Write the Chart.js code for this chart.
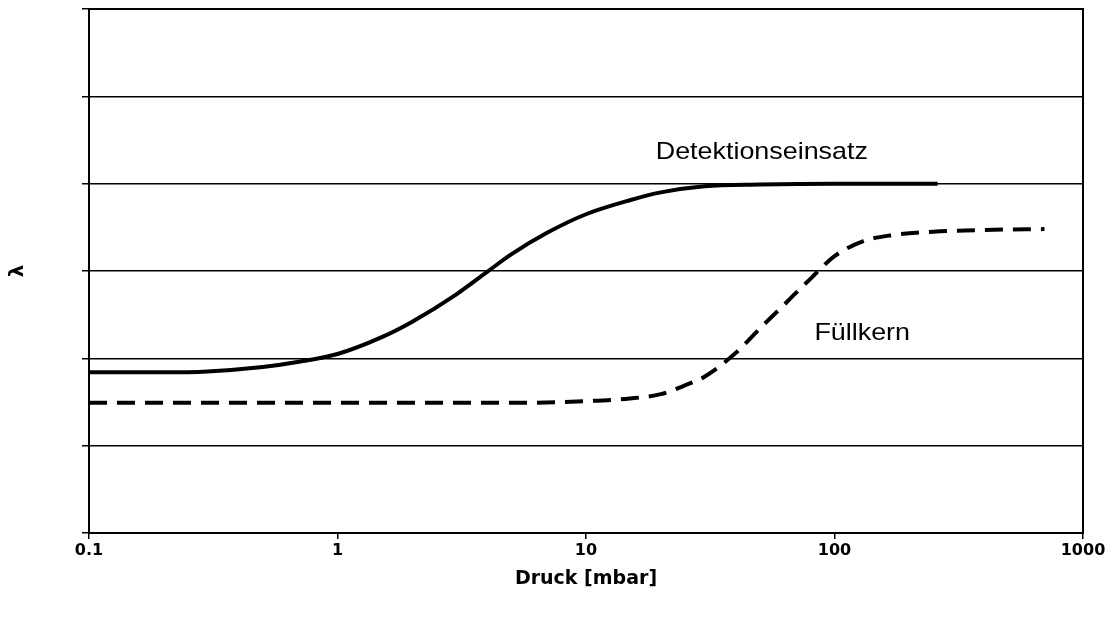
<!DOCTYPE html>
<html>
<head>
<meta charset="utf-8">
<script src="https://cdn.jsdelivr.net/npm/chart.js@4"></script>
<style>
  html, body { margin: 0; padding: 0; background: #fff; }
  #wrap { width: 1117px; height: 620px; }
</style>
</head>
<body>
<div id="wrap"><canvas id="lambdaChart" width="1117" height="620"></canvas></div>
<script>
// pressure in mbar (log axis), lambda in grid units (no scale printed)
const detPressure = [0.1, 0.2, 0.3, 0.5, 0.7, 1, 1.5, 2, 3, 4, 5, 7, 10, 15, 20, 30, 50, 100, 260];
const detLambda   = [1.84, 1.84, 1.85, 1.90, 1.96, 2.05, 2.24, 2.42, 2.73, 2.99, 3.19, 3.44, 3.65, 3.81, 3.90, 3.97, 3.99, 4.0, 4.0];

const fillPressure = [0.1, 1, 5, 10, 15, 20, 25, 30, 40, 50, 60, 70, 80, 100, 130, 170, 250, 400, 700];
const fillLambda   = [1.49, 1.49, 1.49, 1.51, 1.54, 1.59, 1.69, 1.79, 2.06, 2.34, 2.56, 2.75, 2.91, 3.17, 3.34, 3.41, 3.45, 3.47, 3.48];

const seriesNames = ["Detektionseinsatz", "Füllkern"];
const xTickValues = [0.1, 1, 10, 100, 1000];
const xTickLabels = ["0.1", "1", "10", "100", "1000"];

const toPoints = (xs, ys) => xs.map((x, i) => ({ x: x, y: ys[i] }));

// where the series names sit, in data units
const nameSpots = [
  { x: 51, y: 4.36, align: "center" },
  { x: 83, y: 2.29, align: "left" }
];

const boxAndNames = {
  id: "boxAndNames",
  afterDraw(chart) {
    const { ctx, chartArea: a, scales } = chart;
    ctx.save();
    ctx.strokeStyle = "#000";
    ctx.lineWidth = 2;
    ctx.strokeRect(a.left, a.top, a.right - a.left, a.bottom - a.top);
    ctx.fillStyle = "#000";
    ctx.font = "24px 'Liberation Sans', Arial, sans-serif";
    ctx.textBaseline = "middle";
    seriesNames.forEach((name, i) => {
      const s = nameSpots[i];
      ctx.save();
      ctx.translate(scales.x.getPixelForValue(s.x), scales.y.getPixelForValue(s.y));
      ctx.scale(1.12, 1); // the scan is a bit stretched sideways
      ctx.textAlign = s.align;
      ctx.fillText(name, 0, 0);
      ctx.restore();
    });
    ctx.restore();
  }
};

new Chart(document.getElementById("lambdaChart"), {
  type: "scatter",
  data: {
    datasets: [
      {
        label: seriesNames[0],
        data: toPoints(detPressure, detLambda),
        showLine: true,
        borderColor: "#000",
        borderWidth: 4,
        pointRadius: 0,
        cubicInterpolationMode: "monotone"
      },
      {
        label: seriesNames[1],
        data: toPoints(fillPressure, fillLambda),
        showLine: true,
        borderColor: "#000",
        borderWidth: 4,
        borderDash: [18, 10],
        pointRadius: 0,
        cubicInterpolationMode: "monotone"
      }
    ]
  },
  options: {
    responsive: false,
    animation: false,
    layout: { padding: { left: 0, top: 9, right: 34, bottom: 0 } },
    plugins: { legend: { display: false }, tooltip: { enabled: false } },
    scales: {
      x: {
        type: "logarithmic",
        min: 0.1,
        max: 1000,
        afterBuildTicks: s => { s.ticks = xTickValues.map(v => ({ value: v })); },
        afterFit: s => { s.height = 87; },
        ticks: {
          color: "#000",
          padding: 2,
          maxRotation: 0,
          font: { family: "'DejaVu Sans'", size: 16, weight: "bold" },
          callback: v => xTickLabels[xTickValues.indexOf(v)] ?? ""
        },
        grid: { drawOnChartArea: false, color: "#000", tickLength: 6, lineWidth: 1.5 },
        border: { color: "#000", width: 2 },
        title: {
          display: true,
          text: "Druck [mbar]",
          color: "#000",
          font: { family: "'DejaVu Sans'", size: 19, weight: "bold" },
          padding: { top: 0, bottom: 30 }
        }
      },
      y: {
        min: 0,
        max: 6,
        afterFit: s => { s.width = 89; },
        ticks: { stepSize: 1, display: false },
        grid: { color: "#000", lineWidth: 1.5, tickLength: 7 },
        border: { color: "#000", width: 2 },
        title: {
          display: true,
          text: "λ",
          color: "#000",
          font: { family: "'DejaVu Sans'", size: 20, weight: "bold" },
          padding: { top: 6, bottom: 0 }
        }
      }
    }
  },
  plugins: [boxAndNames]
});
</script>
</body>
</html>
